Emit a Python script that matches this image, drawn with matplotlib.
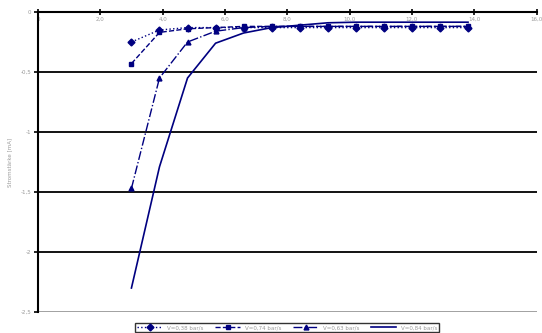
import numpy as np
import matplotlib.pyplot as plt

# data
x = [3.0, 3.9, 4.8, 5.7, 6.6, 7.5, 8.4, 9.3, 10.2, 11.1, 12.0, 12.9, 13.8]
s1 = [-0.25, -0.15, -0.13, -0.13, -0.13, -0.13, -0.13, -0.13, -0.13, -0.13, -0.13, -0.13, -0.13]
s2 = [-0.43, -0.17, -0.14, -0.13, -0.12, -0.12, -0.12, -0.12, -0.12, -0.12, -0.12, -0.12, -0.12]
s3 = [-1.47, -0.55, -0.25, -0.16, -0.13, -0.12, -0.12, -0.12, -0.12, -0.12, -0.12, -0.12, -0.12]
s4 = [-2.30, -1.29, -0.55, -0.26, -0.175, -0.13, -0.11, -0.09, -0.085, -0.085, -0.085, -0.085, -0.085]
labels = ["V=0,38 bar/s", "V=0,74 bar/s", "V=0,63 bar/s", "V=0,84 bar/s"]
xticks = [0, 2, 4, 6, 8, 10, 12, 14, 16]
yticks = [0, -0.5, -1, -1.5, -2, -2.5]

navy = "#000080"
grey = "#9a9a9a"

fig = plt.figure(figsize=(5.42, 3.33), dpi=100)
ax = fig.add_axes([0.070, 0.063, 0.92, 0.901])

ax.plot(x, s1, color=navy, ls=":", lw=1, marker="D", ms=3.5, label=labels[0])
ax.plot(x, s2, color=navy, ls="--", lw=1, marker="s", ms=3.5, label=labels[1])
ax.plot(x, s3, color=navy, ls="-.", lw=1, marker="^", ms=3.5, label=labels[2])
ax.plot(x, s4, color=navy, ls="-", lw=1.2, label=labels[3])

for yv in yticks[1:-1]:
    ax.axhline(yv, color="black", lw=1.3, zorder=0)
ax.axhline(-2.5, color=grey, lw=1.3, zorder=0)

ax.set_xlim(0, 16)
ax.set_ylim(-2.5, 0)
ax.spines["bottom"].set_position(("data", 0))
ax.spines["bottom"].set_linewidth(1.5)
ax.spines["left"].set_linewidth(1.5)
ax.spines["top"].set_visible(False)
ax.spines["right"].set_visible(False)

ax.set_xticks(xticks)
ax.set_xticklabels(["0", "2,0", "4,0", "6,0", "8,0", "10,0", "12,0", "14,0", "16,0"])
ax.set_yticks(yticks)
ax.set_yticklabels(["0", "-0,5", "-1", "-1,5", "-2", "-2,5"])
ax.tick_params(axis="x", direction="inout", length=5, width=1.2, labelsize=4, labelcolor=grey, pad=1)
ax.tick_params(axis="y", direction="out", length=3, width=1.2, labelsize=4, labelcolor=grey, pad=2)

ax.set_ylabel("Stromstärke [mA]", fontsize=4, color=grey, labelpad=6)

leg = ax.legend(loc="upper center", bbox_to_anchor=(0.5, -0.028), ncol=4, fontsize=4,
                frameon=True, fancybox=False, edgecolor="black", handlelength=4.5,
                columnspacing=2.2, borderpad=0.35)
for t in leg.get_texts():
    t.set_color(grey)

fig.savefig("out.png", dpi=100)
